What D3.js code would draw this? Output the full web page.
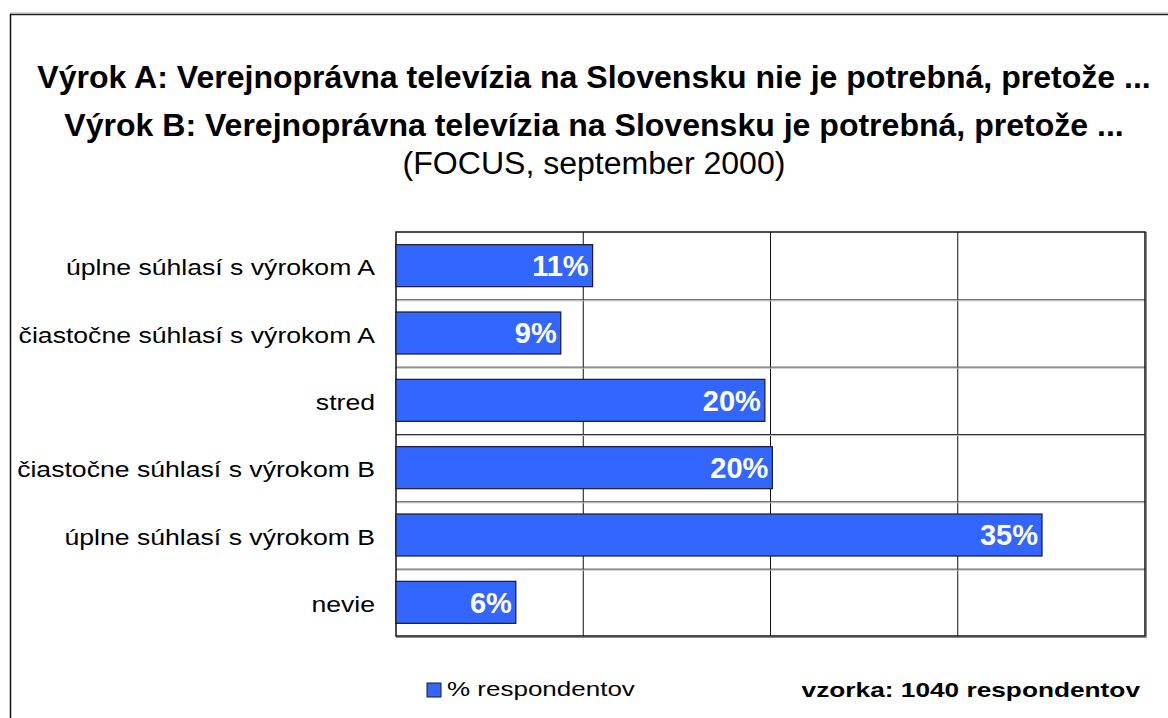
<!DOCTYPE html>
<html><head><meta charset="utf-8">
<script src="https://cdn.jsdelivr.net/npm/d3@7"></script>
<style>body{margin:0;background:#fff}svg{display:block}text{font-family:"Liberation Sans",Arial,sans-serif}</style>
</head><body>
<script>
const categories = ["úplne súhlasí s výrokom A","čiastočne súhlasí s výrokom A","stred","čiastočne súhlasí s výrokom B","úplne súhlasí s výrokom B","nevie"];
const values = [10.5, 8.8, 19.7, 20.1, 34.5, 6.4];
const valueLabels = ["11%","9%","20%","20%","35%","6%"];
const xTicks = [0,10,20,30,40];
const titleLines = ["Výrok A: Verejnoprávna televízia na Slovensku nie je potrebná, pretože ...","Výrok B: Verejnoprávna televízia na Slovensku je potrebná, pretože ...","(FOCUS, september 2000)"];
const legendLabel = "% respondentov";
const sampleNote = "vzorka: 1040 respondentov";

const W=1168,H=718;
const svg=d3.select("body").append("svg").attr("width",W).attr("height",H);
// outer frame
svg.append("line").attr("x1",10).attr("x2",W).attr("y1",13).attr("y2",13).attr("stroke","#bbb").attr("stroke-width",1);
svg.append("line").attr("x1",10).attr("x2",W).attr("y1",14.5).attr("y2",14.5).attr("stroke","#222").attr("stroke-width",1.5);
svg.append("line").attr("x1",10.5).attr("x2",10.5).attr("y1",14).attr("y2",H).attr("stroke","#111").attr("stroke-width",1.5);

const L=396,R=1145,T=232,B=636;
const x=d3.scaleLinear().domain([0,40]).range([L,R]);
const y=d3.scaleBand().domain(categories).range([T,B]).paddingInner(0.376).paddingOuter(0.188);
const yb=d3.scaleBand().domain(categories).range([T,B]);

function stext(sel,tx,ty,sx){return sel.attr("transform",`translate(${tx},${ty}) scale(${sx},1)`);}

const g=svg.append("g");
g.selectAll(".vg").data(xTicks.slice(1,-1)).join("line").attr("x1",d=>x(d)).attr("x2",d=>x(d)).attr("y1",T).attr("y2",B).attr("stroke","#111").attr("stroke-width",1);
g.selectAll(".hg").data(categories.slice(1)).join("line").attr("x1",L).attr("x2",R).attr("y1",d=>yb(d)+0.5).attr("y2",d=>yb(d)+0.5).attr("stroke","#333").attr("stroke-width",1);
g.selectAll(".hg2").data(categories.slice(1)).join("line").attr("x1",L).attr("x2",R).attr("y1",d=>yb(d)+1.5).attr("y2",d=>yb(d)+1.5).attr("stroke","#bbb").attr("stroke-width",1);
g.append("rect").attr("x",L).attr("y",T).attr("width",R-L).attr("height",B-T).attr("fill","none").attr("stroke","#111").attr("stroke-width",1.5);
g.append("line").attr("x1",L).attr("x2",R+1.5).attr("y1",B+1.5).attr("y2",B+1.5).attr("stroke","#888");
g.append("line").attr("x1",R+1.5).attr("x2",R+1.5).attr("y1",T).attr("y2",B+1.5).attr("stroke","#888");

// bars
g.selectAll(".bar").data(values).join("rect")
 .attr("x",x(0)).attr("y",(d,i)=>y(categories[i])).attr("width",d=>x(d)-x(0)).attr("height",y.bandwidth())
 .attr("fill","#3366FF").attr("stroke","#1a1a2e").attr("stroke-width",1.2);
g.selectAll(".bl").data(values).join("text")
 .attr("x",d=>x(d)-4).attr("y",(d,i)=>y(categories[i])+y.bandwidth()/2).attr("dy","0.36em")
 .attr("text-anchor","end").attr("fill","#fff").attr("font-weight","bold").attr("font-size",29)
 .text((d,i)=>valueLabels[i]);

// category labels
g.selectAll(".cl").data(categories).join("text")
 .each(function(d){stext(d3.select(this),375,yb(d)+yb.bandwidth()/2+9.5,1.21);})
 .attr("text-anchor","end").attr("font-size",22).attr("fill","#000").text(d=>d);

// titles
const titleY=[88,136,174];
titleLines.forEach((t,i)=>{
  stext(svg.append("text"),594,titleY[i],1.034).attr("text-anchor","middle")
   .attr("font-weight",i<2?"bold":"normal").attr("font-size",31).text(t);
});

// legend
svg.append("rect").attr("x",427).attr("y",683).attr("width",14).attr("height",14).attr("fill","#3366FF").attr("stroke","#1a1a2e");
stext(svg.append("text"),447,696,1.3).attr("font-size",20).text(legendLabel);
stext(svg.append("text"),1140,697,1.25).attr("text-anchor","end").attr("font-weight","bold").attr("font-size",21).text(sampleNote);
</script>
</body></html>
